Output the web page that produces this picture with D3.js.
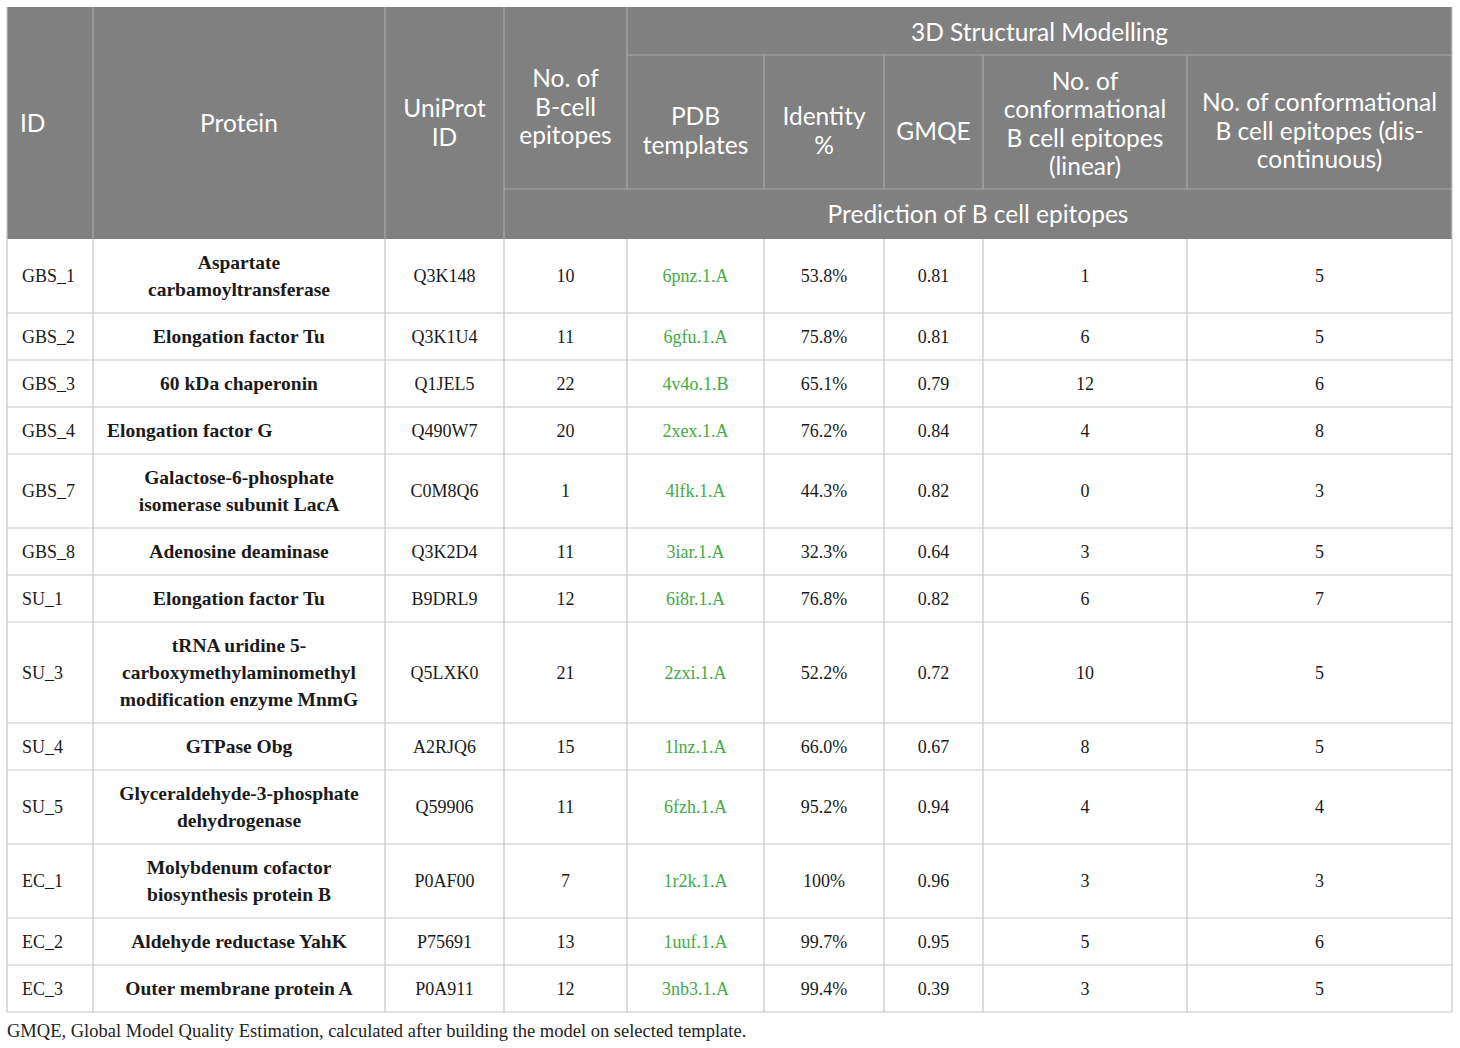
<!DOCTYPE html>
<html><head><meta charset="utf-8">
<script src="https://cdn.jsdelivr.net/npm/d3@7"></script>
<style>
body{margin:0;background:#fff;}
svg{display:block;}
</style></head>
<body>
<script>
// ---------- DATA ----------
const ids = ["GBS_1","GBS_2","GBS_3","GBS_4","GBS_7","GBS_8","SU_1","SU_3","SU_4","SU_5","EC_1","EC_2","EC_3"];
const proteins = [
  ["Aspartate","carbamoyltransferase"],
  ["Elongation factor Tu"],
  ["60 kDa chaperonin"],
  ["Elongation factor G"],
  ["Galactose-6-phosphate","isomerase subunit LacA"],
  ["Adenosine deaminase"],
  ["Elongation factor Tu"],
  ["tRNA uridine 5-","carboxymethylaminomethyl","modification enzyme MnmG"],
  ["GTPase Obg"],
  ["Glyceraldehyde-3-phosphate","dehydrogenase"],
  ["Molybdenum cofactor","biosynthesis protein B"],
  ["Aldehyde reductase YahK"],
  ["Outer membrane protein A"]
];
const proteinLeftAligned = [false,false,false,true,false,false,false,false,false,false,false,false,false];
const uniprot = ["Q3K148","Q3K1U4","Q1JEL5","Q490W7","C0M8Q6","Q3K2D4","B9DRL9","Q5LXK0","A2RJQ6","Q59906","P0AF00","P75691","P0A911"];
const bcellEpitopes = [10,11,22,20,1,11,12,21,15,11,7,13,12];
const pdbTemplates = ["6pnz.1.A","6gfu.1.A","4v4o.1.B","2xex.1.A","4lfk.1.A","3iar.1.A","6i8r.1.A","2zxi.1.A","1lnz.1.A","6fzh.1.A","1r2k.1.A","1uuf.1.A","3nb3.1.A"];
const identity = ["53.8%","75.8%","65.1%","76.2%","44.3%","32.3%","76.8%","52.2%","66.0%","95.2%","100%","99.7%","99.4%"];
const gmqe = ["0.81","0.81","0.79","0.84","0.82","0.64","0.82","0.72","0.67","0.94","0.96","0.95","0.39"];
const linearEpitopes = [1,6,12,4,0,3,6,10,8,4,3,5,3];
const discontEpitopes = [5,5,6,8,3,5,7,5,5,4,3,6,5];
const headerTop = "3D Structural Modelling";
const headerBottom = "Prediction of B cell epitopes";
const colHeaders = [["ID"],["Protein"],["UniProt","ID"],["No. of","B-cell","epitopes"],["PDB","templates"],["Identity","%"],["GMQE"],["No. of","conformational","B cell epitopes","(linear)"],["No. of conformational","B cell epitopes (dis-","continuous)"]];
const footnote = "GMQE, Global Model Quality Estimation, calculated after building the model on selected template.";

// ---------- LAYOUT ----------
const W = 1460, H = 1048;
const colEdges = [7,93,385,504,627,764,884,983,1187,1452];
const tableTop = 7, hRow1 = 48, hRow2 = 134, hRow3 = 50;
const headBottom = tableTop + hRow1 + hRow2 + hRow3;
const bodyLine = 27, bodyPad = 20;
const headBg = "#808080", headLine = "#a8a8a8", bodyLineCol = "#c6c6c6";
const green = "#45aa45", textCol = "#1a1a1a";
const headFont = "Lato, 'Open Sans', sans-serif";
const headSize = 24.5, headScale = 1.0, headLH = 28.5;
const headYOffset = [0, 0, 0, 9, 9, 9, 9, 2, 9];
const bodyFont = "'Liberation Serif', 'DejaVu Serif', serif";

const svg = d3.select("body").append("svg").attr("width", W).attr("height", H);

// row positions from data (line counts)
const rowH = proteins.map(p => bodyPad + bodyLine * p.length);
const rowY = [];
let acc = headBottom;
rowH.forEach(h => { rowY.push(acc); acc += h; });
const tableBottom = acc;

const x = i => colEdges[i];
const cx = i => (colEdges[i] + colEdges[i+1]) / 2;

// ---------- HEADER ----------
svg.append("rect").attr("x", x(0)).attr("y", tableTop).attr("width", x(9)-x(0)).attr("height", headBottom - tableTop).attr("fill", headBg);

const hl = svg.append("g").attr("stroke", headLine).attr("stroke-width", 1.2);
[1,2].forEach(i => hl.append("line").attr("x1", x(i)).attr("x2", x(i)).attr("y1", tableTop).attr("y2", headBottom));
hl.append("line").attr("x1", x(3)).attr("x2", x(3)).attr("y1", tableTop).attr("y2", headBottom);
hl.append("line").attr("x1", x(4)).attr("x2", x(4)).attr("y1", tableTop).attr("y2", tableTop+hRow1+hRow2);
[5,6,7,8].forEach(i => hl.append("line").attr("x1", x(i)).attr("x2", x(i)).attr("y1", tableTop+hRow1).attr("y2", tableTop+hRow1+hRow2));
hl.append("line").attr("x1", x(4)).attr("x2", x(9)).attr("y1", tableTop+hRow1).attr("y2", tableTop+hRow1);
hl.append("line").attr("x1", x(3)).attr("x2", x(9)).attr("y1", tableTop+hRow1+hRow2).attr("y2", tableTop+hRow1+hRow2);

function multiText(g, lines, tx, ty, lh, anchor, attrs, sx) {
  const grp = g.append("g").attr("transform", `translate(${tx},${ty}) scale(${sx||1},1)`);
  const t = grp.append("text").attr("text-anchor", anchor);
  Object.entries(attrs).forEach(([k,v]) => t.attr(k, v));
  const n = lines.length;
  lines.forEach((ln, k) => {
    t.append("tspan").attr("x", 0).attr("y", (k - (n-1)/2) * lh).attr("dy", "0.35em").text(ln);
  });
  return t;
}
const hAttrs = {"font-family": headFont, "font-size": headSize, "fill": "#fff"};
const hg = svg.append("g");
const headMid = (tableTop + headBottom) / 2;
const row2Mid = tableTop + hRow1 + hRow2/2;
const bcellMid = tableTop + (hRow1 + hRow2)/2;
colHeaders.forEach((lines, i) => {
  let ty = (i < 3 ? headMid : i === 3 ? bcellMid : row2Mid) + headYOffset[i];
  if (i === 0) multiText(hg, lines, x(0)+13, ty, headLH, "start", hAttrs, headScale);
  else multiText(hg, lines, cx(i), ty, headLH, "middle", hAttrs, headScale);
});
multiText(hg, [headerTop], (x(4)+x(9))/2, tableTop + hRow1/2 + 1, headLH, "middle", hAttrs, headScale);
multiText(hg, [headerBottom], (x(3)+x(9))/2, tableTop + hRow1 + hRow2 + hRow3/2, headLH, "middle", hAttrs, headScale);

// ---------- BODY ----------
const bl = svg.append("g").attr("stroke", bodyLineCol).attr("stroke-width", 1.2);
rowY.forEach((y, r) => bl.append("line").attr("x1", x(0)).attr("x2", x(9)).attr("y1", y + rowH[r]).attr("y2", y + rowH[r]));
colEdges.forEach(e => bl.append("line").attr("x1", e).attr("x2", e).attr("y1", headBottom).attr("y2", tableBottom));
bl.append("line").attr("x1", x(0)).attr("x2", x(0)).attr("y1", tableTop).attr("y2", headBottom);
bl.append("line").attr("x1", x(9)).attr("x2", x(9)).attr("y1", tableTop).attr("y2", headBottom);

const bAttrs = {"font-family": bodyFont, "font-size": 18, "fill": textCol};
const boldAttrs = {...bAttrs, "font-size": 19.5, "font-weight": "bold"};
const bg = svg.append("g");
ids.forEach((id, r) => {
  const my = rowY[r] + rowH[r]/2;
  multiText(bg, [id], x(0)+15, my, bodyLine, "start", bAttrs);
  if (proteinLeftAligned[r]) multiText(bg, proteins[r], x(1)+14, my, bodyLine, "start", boldAttrs);
  else multiText(bg, proteins[r], cx(1), my, bodyLine, "middle", boldAttrs);
  multiText(bg, [uniprot[r]], cx(2), my, bodyLine, "middle", bAttrs);
  multiText(bg, [String(bcellEpitopes[r])], cx(3), my, bodyLine, "middle", bAttrs);
  multiText(bg, [pdbTemplates[r]], cx(4), my, bodyLine, "middle", {...bAttrs, fill: green});
  multiText(bg, [identity[r]], cx(5), my, bodyLine, "middle", bAttrs);
  multiText(bg, [gmqe[r]], cx(6), my, bodyLine, "middle", bAttrs);
  multiText(bg, [String(linearEpitopes[r])], cx(7), my, bodyLine, "middle", bAttrs);
  multiText(bg, [String(discontEpitopes[r])], cx(8), my, bodyLine, "middle", bAttrs);
});

// ---------- FOOTNOTE ----------
svg.append("text").attr("x", 7).attr("y", tableBottom + 25).attr("font-family", bodyFont).attr("font-size", 18.5).attr("fill", "#222").text(footnote);
</script>
</body></html>
